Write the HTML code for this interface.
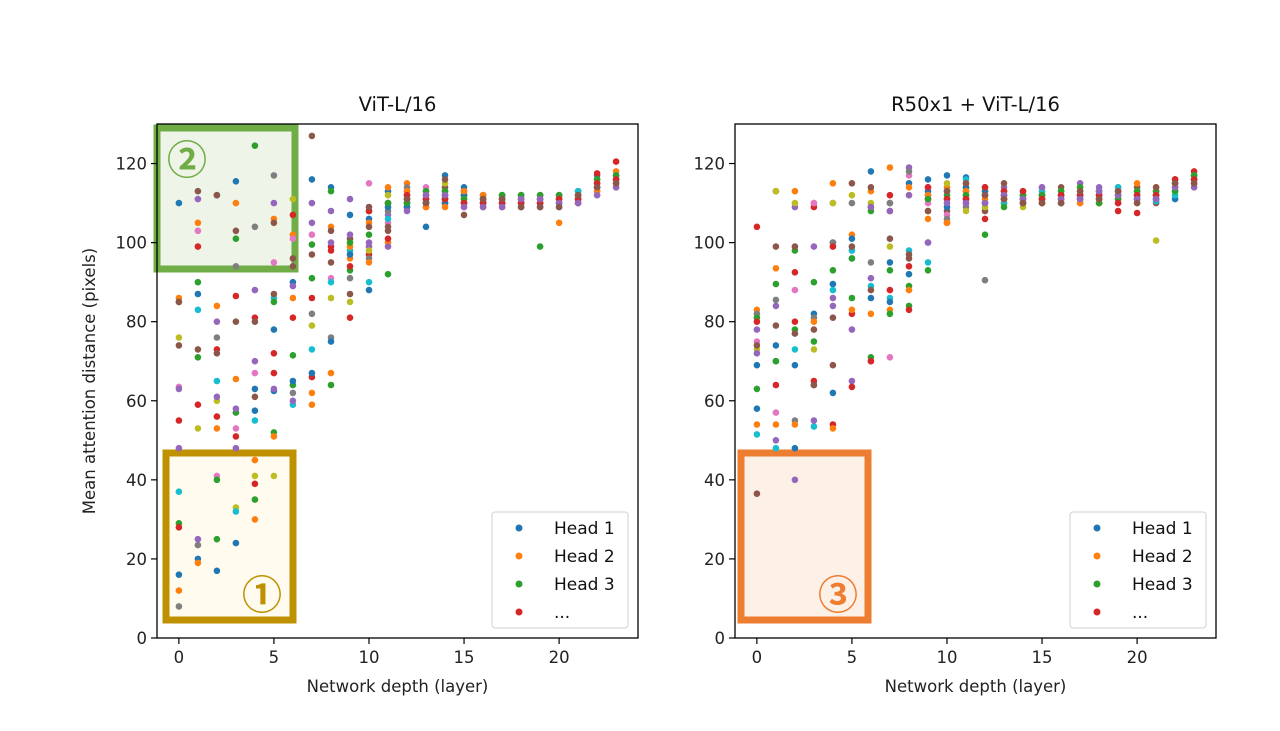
<!DOCTYPE html>
<html><head><meta charset="utf-8">
<style>
body{margin:0;background:#fff;}
svg{display:block;font-family:"DejaVu Sans","Liberation Sans",sans-serif;}
</style></head>
<body>
<svg id="chart" width="1280" height="731" viewBox="0 0 1280 731" xmlns="http://www.w3.org/2000/svg">
<rect x="0" y="0" width="1280" height="731" fill="#fff"/>
</svg>
<script>
const layers = [0,1,2,3,4,5,6,7,8,9,10,11,12,13,14,15,16,17,18,19,20,21,22,23];
const xTicks = [0,5,10,15,20];
const yTicks = [0,20,40,60,80,100,120];
const colors = ["#1f77b4","#ff7f0e","#2ca02c","#d62728","#9467bd","#8c564b","#e377c2","#7f7f7f","#bcbd22","#17becf"];
const legendLabels = ["Head 1","Head 2","Head 3","..."];
// ViT-L/16: per layer, 16 heads
const vitValues = [
[110,86,85,55,48,74,63.5,8,76,37,16,12,29,28,63,85],
[87,105,71,99,111,73,103,23.5,53,83,20,19,90,59,25,113],
[112,84,25,73,80,72,41,76,60,65,17,53,40,56,61,112],
[115.5,110,57,51,58,103,53,94,33,32,24,65.5,101,86.5,48,80],
[57.5,30,124.5,81,70,80,67,104,41,55,63,45,35,39,88,61],
[62.5,106,52,67,110,105,95,117,41,86,78,51,85,72,63,87],
[90,102,64,81,89,96,101,62,111,59,65,86,71.5,107,60,94],
[116,59,91,66,105,127,102,82,79,73,67,62,99.5,86,110,97],
[114,104,113,99,100,103,91,76,86,90,75,67,64,98,108,95],
[107,96,93,81,111,101,98,91,85,98,97,99,100,94,102,87],
[106,105,102,97,99,104,115,96,98,90,88,95,108,108,100,109],
[113,114,92,110,107,103,105,108,112,106,109,100,110,101,99,104],
[112,115,111,110,111,109,113,114,111,110,109,113,110,112,108,111],
[104,112,110,109,111,113,114,110,112,111,110,109,113,111,112,110],
[117,113,111,112,110,114,113,111,115,112,110,109,113,111,112,116],
[114,110,112,113,111,110,109,112,111,110,112,113,111,110,109,107],
[112,111,110,109,112,111,110,112,109,111,110,112,111,110,109,111],
[111,112,110,109,111,112,110,111,109,112,110,111,112,110,109,111],
[112,111,110,109,112,111,110,111,112,109,110,111,112,110,111,109],
[111,110,99,112,111,110,109,112,111,110,109,111,112,110,111,109],
[112,105,111,110,112,111,110,112,111,110,109,111,112,111,110,109],
[113,112,111,110,113,112,111,110,112,113,111,110,112,111,110,112],
[117,116,114,117.5,113,115,114,116,112,115,114,113,116,115,112,114],
[116,118,115,120.5,117,116,114,115,114,117,116,115,117,116,114,115]
];
// R50x1 + ViT-L/16
const r50Values = [
[69,83,63,104,78,36.5,75,82,73,51.5,58,54,81,80,72,74],
[70,93.5,89.5,113,84,99,57,85.5,113,48,74,54,70,64,50,79],
[48,113,78,92.5,109,77,88,55,110,73,69,54,98,80,40,99],
[82,110,90,109,99,78,110,81,73,53.5,64,80,75,65,55,64],
[89.5,115,100,54,84,69,110,100,110,88,62,53,93,99,86,81],
[96,102,96,82,65,115,98,110,112,98,101,83,86,63.5,78,99],
[118,113,108,109,91,114,70,95,110,89,86,82,71,70,109,88],
[95,119,93,112,110,108,71,110,99,86,85,83,82,88,108,101],
[115,114,89,94,119,96,117,118,112,98,92,88,84,83,112,97],
[116,106,93,111,114,112,110,100,108,95,113,112,111,114,100,108],
[117,114,111,105,113,108,107,106,115,113,109,105,112,111,110,113],
[116.5,115,114,113,112,111,110,109,108,116,114,113,112,111,110,115],
[114,113,102,106,112,108,110,90.5,109,112,113,111,110,114,110,112],
[113,112,111,110,114,115,112,111,113,110,112,111,109,113,112,111],
[111,112,110,111,113,112,110,111,109,112,110,111,112,113,111,110],
[112,113,111,110,114,112,111,112,110,113,111,110,112,111,114,110],
[113,112,111,110,112,114,111,112,113,110,112,111,113,112,111,110],
[112,114,111,113,115,112,110,111,113,112,111,110,114,112,111,113],
[113,112,111,110,114,113,112,111,110,113,112,111,110,112,113,111],
[114,113,112,108,111,112,110,113,111,114,112,113,111,110,112,113],
[113,112,111,107.5,112,114,113,111,110,112,111,115,113,112,111,110],
[112,114,113,111,112,110,113,112,100.5,110.5,111,112,113,112,111,114],
[111,116,115,114,115,113,114,116,113,112,115,114,113,116,114,115],
[116,117,115,118,116,117,115,116,114,117,116,115,117,116,114,115]
];

const svg = document.getElementById('chart');
const NS = 'http://www.w3.org/2000/svg';
function mk(tag, attrs, parent){
  const e = document.createElementNS(NS, tag);
  for (const k in attrs) e.setAttribute(k, attrs[k]);
  (parent||svg).appendChild(e);
  return e;
}

function drawPanel(cfg){
  const g = mk('g', {});
  
  
  const xScale = v => cfg.x0 + (v - (-1.15)) / (24.15 - (-1.15)) * (cfg.x1 - cfg.x0);
  const yScale = v => cfg.y1 - v / 130 * (cfg.y1 - cfg.y0);

  const box = cfg.box;
  const br = mk('rect', {x:box.x, y:box.y, width:box.w, height:box.h, fill:box.fill, stroke:box.stroke, 'stroke-width':7}, g);
  
  
  if (cfg.box2){
    const b2 = cfg.box2;
    const r2 = mk('rect', {x:b2.x, y:b2.y, width:b2.w, height:b2.h, fill:b2.fill, stroke:b2.stroke, 'stroke-width':7}, g);
    
    
  }

  const pts = mk('g', {}, g);
  
  
  for (let h = 0; h < 16; h++){
    for (let l = 0; l < layers.length; l++){
      const c = mk('circle', {cx:xScale(layers[l]).toFixed(1), cy:yScale(cfg.values[l][h]).toFixed(1), r:3.3, fill:colors[h%10]}, pts);
      
      
    }
  }

  for (const n of cfg.nums){
    const t = mk('text', {x:n.x, y:n.y, 'font-size':40, 'font-weight':'bold', fill:n.color, 'text-anchor':'middle', 'dominant-baseline':'central', 'font-family':'"Noto Sans CJK JP","Liberation Sans",sans-serif'}, g);
    t.textContent = n.t;
    
    
  }

  const fr = mk('rect', {x:cfg.x0, y:cfg.y0, width:cfg.x1-cfg.x0, height:cfg.y1-cfg.y0, fill:'none', stroke:'#000', 'stroke-width':1.3}, g);
  
  

  for (const v of xTicks){
    const x = xScale(v);
    const tl = mk('line', {x1:x, x2:x, y1:cfg.y1, y2:cfg.y1+6, stroke:'#000', 'stroke-width':1.2}, g);
    
    
    const tt = mk('text', {x:x, y:cfg.y1+25, 'font-size':16.5, 'text-anchor':'middle', fill:'#222'}, g);
    tt.textContent = v;
    
    
  }
  for (const v of yTicks){
    const y = yScale(v);
    const tl = mk('line', {x1:cfg.x0-6, x2:cfg.x0, y1:y, y2:y, stroke:'#000', 'stroke-width':1.2}, g);
    
    
    const tt = mk('text', {x:cfg.x0-10, y:y+6, 'font-size':16.5, 'text-anchor':'end', fill:'#222'}, g);
    tt.textContent = v;
    
    
  }
  const title = mk('text', {x:(cfg.x0+cfg.x1)/2, y:cfg.y0-13, 'font-size':19.5, 'text-anchor':'middle', fill:'#111'}, g);
  title.textContent = cfg.title;
  
  
  const xl = mk('text', {x:(cfg.x0+cfg.x1)/2, y:cfg.y1+54, 'font-size':16.5, 'text-anchor':'middle', fill:'#222'}, g);
  xl.textContent = 'Network depth (layer)';
  
  
  if (cfg.ylabel){
    const yl = mk('text', {x:0, y:0, 'font-size':16.5, 'text-anchor':'middle', fill:'#222', transform:'translate(' + (cfg.x0-62) + ',' + ((cfg.y0+cfg.y1)/2) + ') rotate(-90)'}, g);
    yl.textContent = 'Mean attention distance (pixels)';
    
    
  }
  const lg = mk('g', {}, g);
  
  
  const lx = cfg.x1 - 146, ly = cfg.y1 - 126;
  mk('rect', {x:lx, y:ly, width:136, height:116, rx:3, fill:'#fff', 'fill-opacity':0.85, stroke:'#d0d0d0', 'stroke-width':1}, lg);
  legendLabels.forEach((lab, i) => {
    const ent = mk('g', {}, lg);
    
    
    mk('circle', {cx:lx+27, cy:ly+16+i*28, r:3.5, fill:colors[i]}, ent);
    const t = mk('text', {x:lx+62, y:ly+22+i*28, 'font-size':17, fill:'#111'}, ent);
    t.textContent = lab;
  });
}

drawPanel({name:'panel-vit-l16', title:'ViT-L/16', x0:157, x1:638, y0:124, y1:638, values:vitValues, ylabel:true,
  box:{x:157, y:128, w:138, h:141, fill:'#eef4e8', stroke:'#70ad47', name:'highlight-box-2'},
  box2:{x:166, y:453, w:127, h:167, fill:'#fffbef', stroke:'#bf9000', name:'highlight-box-1'},
  nums:[{x:187,y:157,t:'②',color:'#70ad47',name:'label-2'},{x:262,y:592,t:'①',color:'#bf9000',name:'label-1'}]});
drawPanel({name:'panel-r50-vit-l16', title:'R50x1 + ViT-L/16', x0:735, x1:1216, y0:124, y1:638, values:r50Values, ylabel:false,
  box:{x:741, y:453, w:127, h:167, fill:'#fdf0e6', stroke:'#ed7d31', name:'highlight-box-3'},
  nums:[{x:838,y:592,t:'③',color:'#ed7d31',name:'label-3'}]});
</script>
</body></html>
